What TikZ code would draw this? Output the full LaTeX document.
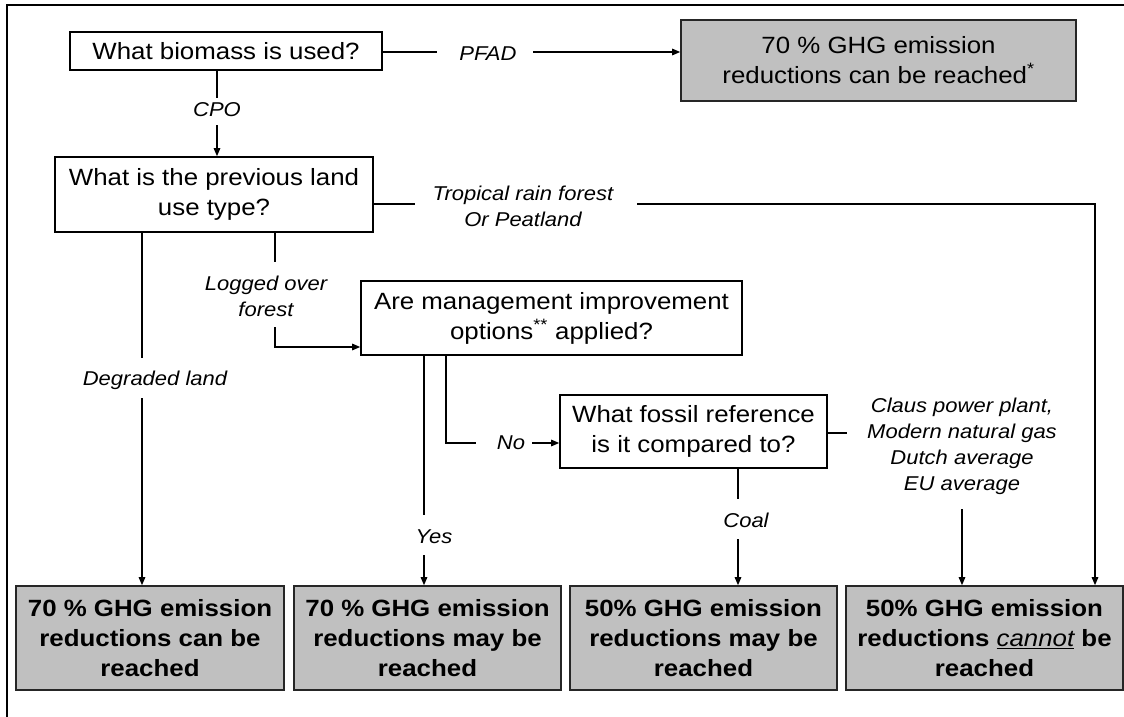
\documentclass[tikz,border=0pt]{standalone}
\usepackage{fontspec}
\setmainfont{Liberation Sans}[FakeStretch=1.1]
\usetikzlibrary{arrows.meta}
\definecolor{boxgray}{HTML}{C0C0C0}
\begin{document}
\begin{tikzpicture}[x=1pt,y=-1pt,
  qbox/.style={draw=black, line width=1.6pt, fill=white, align=center, inner sep=0pt,
    font=\fontsize{23.5}{30}\selectfont},
  rbox/.style={qbox, fill=boxgray, draw=black!85},
  rboxb/.style={rbox, font=\fontsize{23.5}{30}\selectfont\bfseries},
  lbl/.style={font=\fontsize{20}{26}\selectfont\itshape, align=center, inner sep=0pt},
  conn/.style={line width=1.3pt},
  arr/.style={conn, -{Triangle[length=8pt,width=6.5pt]}}]
\useasboundingbox (0,0) rectangle (1124,717);
% frame
\draw[line width=1.6pt] (7,717) -- (7,5) -- (1124,5);

% question boxes
\node[qbox, minimum width=312pt, minimum height=38pt] (q1) at (226,51) {What biomass is used?};
\node[qbox, minimum width=318pt, minimum height=75pt] (q2) at (214,194.5) {What is the previous land\\use type?};
\node[qbox, minimum width=381pt, minimum height=74pt] (q3) at (551.5,318) {Are management improvement\\options\textsuperscript{**} applied?};
\node[qbox, minimum width=267pt, minimum height=73pt] (q4) at (693.5,431.5) {What fossil reference\\is it compared to?};

% result boxes
\node[rbox, minimum width=395pt, minimum height=81pt] (r0) at (878.5,60.5) {70 \% GHG emission\\reductions can be reached\textsuperscript{*}};
\node[rboxb, minimum width=268pt, minimum height=104pt] (b1) at (150,638) {70 \% GHG emission\\reductions can be\\reached};
\node[rboxb, minimum width=267pt, minimum height=104pt] (b2) at (427.5,638) {70 \% GHG emission\\reductions may be\\reached};
\node[rboxb, minimum width=267pt, minimum height=104pt] (b3) at (703.5,638) {50\% GHG emission\\reductions may be\\reached};
\node[rboxb, minimum width=277pt, minimum height=104pt] (b4) at (984.5,638) {50\% GHG emission\\reductions {\mdseries\itshape\underline{cannot}} be\\reached};

% labels
\node[lbl] (pfad) at (488,54) {PFAD};
\node[lbl] (cpo) at (217,110) {CPO};
\node[lbl] (trop) at (523,206) {Tropical rain forest\\Or Peatland};
\node[lbl] (logged) at (266,296) {Logged over\\forest};
\node[lbl] (degr) at (155,380) {Degraded land};
\node[lbl] (yes) at (434,537) {Yes};
\node[lbl] (no) at (511,443) {No};
\node[lbl] (claus) at (962,446) {Claus power plant,\\Modern natural gas\\Dutch average\\EU average};
\node[lbl] (coal) at (746,520) {Coal};

% connector end points
\coordinate (pfadL) at (437,52);
\coordinate (pfadR) at (533,52);
\coordinate (cpoT) at (217,98);
\coordinate (cpoB) at (217,125);
\coordinate (tropL) at (415,204);
\coordinate (tropR) at (637,204);
\coordinate (tropC) at (1095,204);
\coordinate (degT) at (142,358);
\coordinate (degB) at (142,398);
\coordinate (logT) at (275,262);
\coordinate (logB) at (275,327);
\coordinate (logC) at (275,347);
\coordinate (yesT) at (424,515);
\coordinate (yesB) at (424,555);
\coordinate (noC) at (446,443);
\coordinate (noL) at (476,443);
\coordinate (noR) at (532,443);
\coordinate (clL) at (847,433);
\coordinate (euT) at (962,509);
\coordinate (coalT) at (738,499);
\coordinate (coalB) at (738,539);

% connectors
\draw[conn] (q1.east |- pfadL) -- (pfadL);
\draw[arr] (pfadR) -- (r0.west |- pfadR);
\draw[conn] (q1.south -| cpoT) -- (cpoT);
\draw[arr] (cpoB) -- (q2.north -| cpoB);
\draw[conn] (q2.east |- tropL) -- (tropL);
\draw[arr] (tropR) -- (tropC) -- (b4.north -| tropC);
\draw[conn] (q2.south -| degT) -- (degT);
\draw[arr] (degB) -- (b1.north -| degB);
\draw[conn] (q2.south -| logT) -- (logT);
\draw[arr] (logB) -- (logC) -- (q3.west |- logC);
\draw[conn] (q3.south -| yesT) -- (yesT);
\draw[arr] (yesB) -- (b2.north -| yesB);
\draw[conn] (q3.south -| noC) -- (noC) -- (noL);
\draw[arr] (noR) -- (q4.west |- noR);
\draw[conn] (q4.east |- clL) -- (clL);
\draw[arr] (euT) -- (b4.north -| euT);
\draw[conn] (q4.south -| coalT) -- (coalT);
\draw[arr] (coalB) -- (b3.north -| coalB);
\end{tikzpicture}
\end{document}
